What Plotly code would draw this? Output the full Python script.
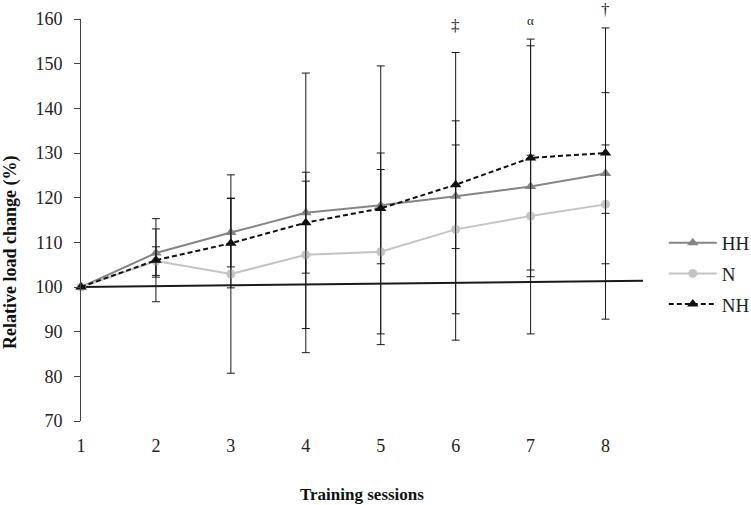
import plotly.graph_objects as go

sessions = [1, 2, 3, 4, 5, 6, 7, 8]
tick_labels = ["1", "2", "3", "4", "5", "6", "7", "8"]

hh_mean = [100, 107.6, 112.2, 116.6, 118.3, 120.3, 122.5, 125.4]
hh_sd = [0, 5.4, 7.7, 31.3, 31.2, 32.2, 33.0, 32.6]

n_mean = [100, 105.8, 102.9, 107.2, 107.9, 112.9, 115.9, 118.5]
n_sd = [0, 3.2, 22.2, 16.5, 18.4, 18.9, 13.6, 13.3]

nh_mean = [100, 106.0, 109.8, 114.4, 117.6, 122.9, 128.9, 130.0]
nh_sd = [0, 9.3, 10.0, 11.3, 12.4, 14.3, 25.1, 13.5]

baseline_x = [1, 8.5]
baseline_y = [100, 101.4]

sig_labels = ["‡", "α", "†"]
sig_sessions = [6, 7, 8]
sig_ypaper = [0.984, 0.996, 1.024]
sig_sizes = [17, 13, 17]

FONT = "Liberation Serif, Times New Roman, serif"

fig = go.Figure()

fig.add_trace(go.Scatter(
    x=baseline_x, y=baseline_y, mode="lines",
    line=dict(color="#1a1a1a", width=2), showlegend=False, hoverinfo="skip",
))

def err(sd):
    return dict(type="data", array=sd, visible=True, color="#1a1a1a",
                thickness=1, width=4)

fig.add_trace(go.Scatter(
    x=sessions, y=hh_mean, name="HH", mode="lines+markers", legendgroup="a",
    line=dict(color="#858585", width=2),
    marker=dict(symbol="triangle-up", size=10, color="#858585"),
    error_y=err(hh_sd), cliponaxis=False,
))
fig.add_trace(go.Scatter(
    x=sessions, y=n_mean, name="N", mode="lines+markers", legendgroup="b",
    line=dict(color="#c4c4c4", width=2),
    marker=dict(symbol="circle", size=9, color="#c4c4c4"),
    error_y=err(n_sd), cliponaxis=False,
))
fig.add_trace(go.Scatter(
    x=sessions, y=nh_mean, name="NH", mode="lines+markers", legendgroup="c",
    line=dict(color="#111111", width=2, dash="5px,3px"),
    marker=dict(symbol="triangle-up", size=10, color="#111111"),
    error_y=err(nh_sd), cliponaxis=False,
))

for lab, xs, yp, sz in zip(sig_labels, sig_sessions, sig_ypaper, sig_sizes):
    fig.add_annotation(x=xs, y=yp, xref="x", yref="paper", text=lab,
                       xanchor="center", yanchor="middle",
                       showarrow=False, font=dict(family=FONT, size=sz, color="#222"))

fig.add_annotation(x=-0.1257, y=0.419, xref="paper", yref="paper",
                   xanchor="center", yanchor="middle",
                   text="<b>Relative load change (%)</b>", textangle=-90,
                   showarrow=False, font=dict(family=FONT, size=18, color="#111"))
fig.add_annotation(x=0.5, y=-0.182, xref="paper", yref="paper",
                   xanchor="center", yanchor="middle",
                   text="<b>Training sessions</b>",
                   showarrow=False, font=dict(family=FONT, size=17, color="#111"))

fig.update_layout(
    width=751, height=505,
    margin=dict(l=80.7, r=107.8, t=18.5, b=84.3, autoexpand=False),
    paper_bgcolor="white", plot_bgcolor="white",
    font=dict(family=FONT, size=18, color="#222"),
    showlegend=True,
    legend=dict(x=1.037, y=0.366, xanchor="left", yanchor="middle",
                font=dict(family=FONT, size=19, color="#222"),
                itemwidth=48, tracegroupgap=3, bgcolor="rgba(0,0,0,0)"),
    xaxis=dict(range=[1, 8.5], tickmode="array", tickvals=sessions,
               ticktext=tick_labels, showline=False, showgrid=False,
               zeroline=False, ticks="", ticklabelstandoff=12),
    yaxis=dict(range=[70, 160], dtick=10, showline=True, linecolor="#444",
               linewidth=1, ticks="outside", ticklen=6, tickcolor="#444",
               ticklabelstandoff=8,
               showgrid=False, zeroline=False),
)

fig.write_html("out.html")
